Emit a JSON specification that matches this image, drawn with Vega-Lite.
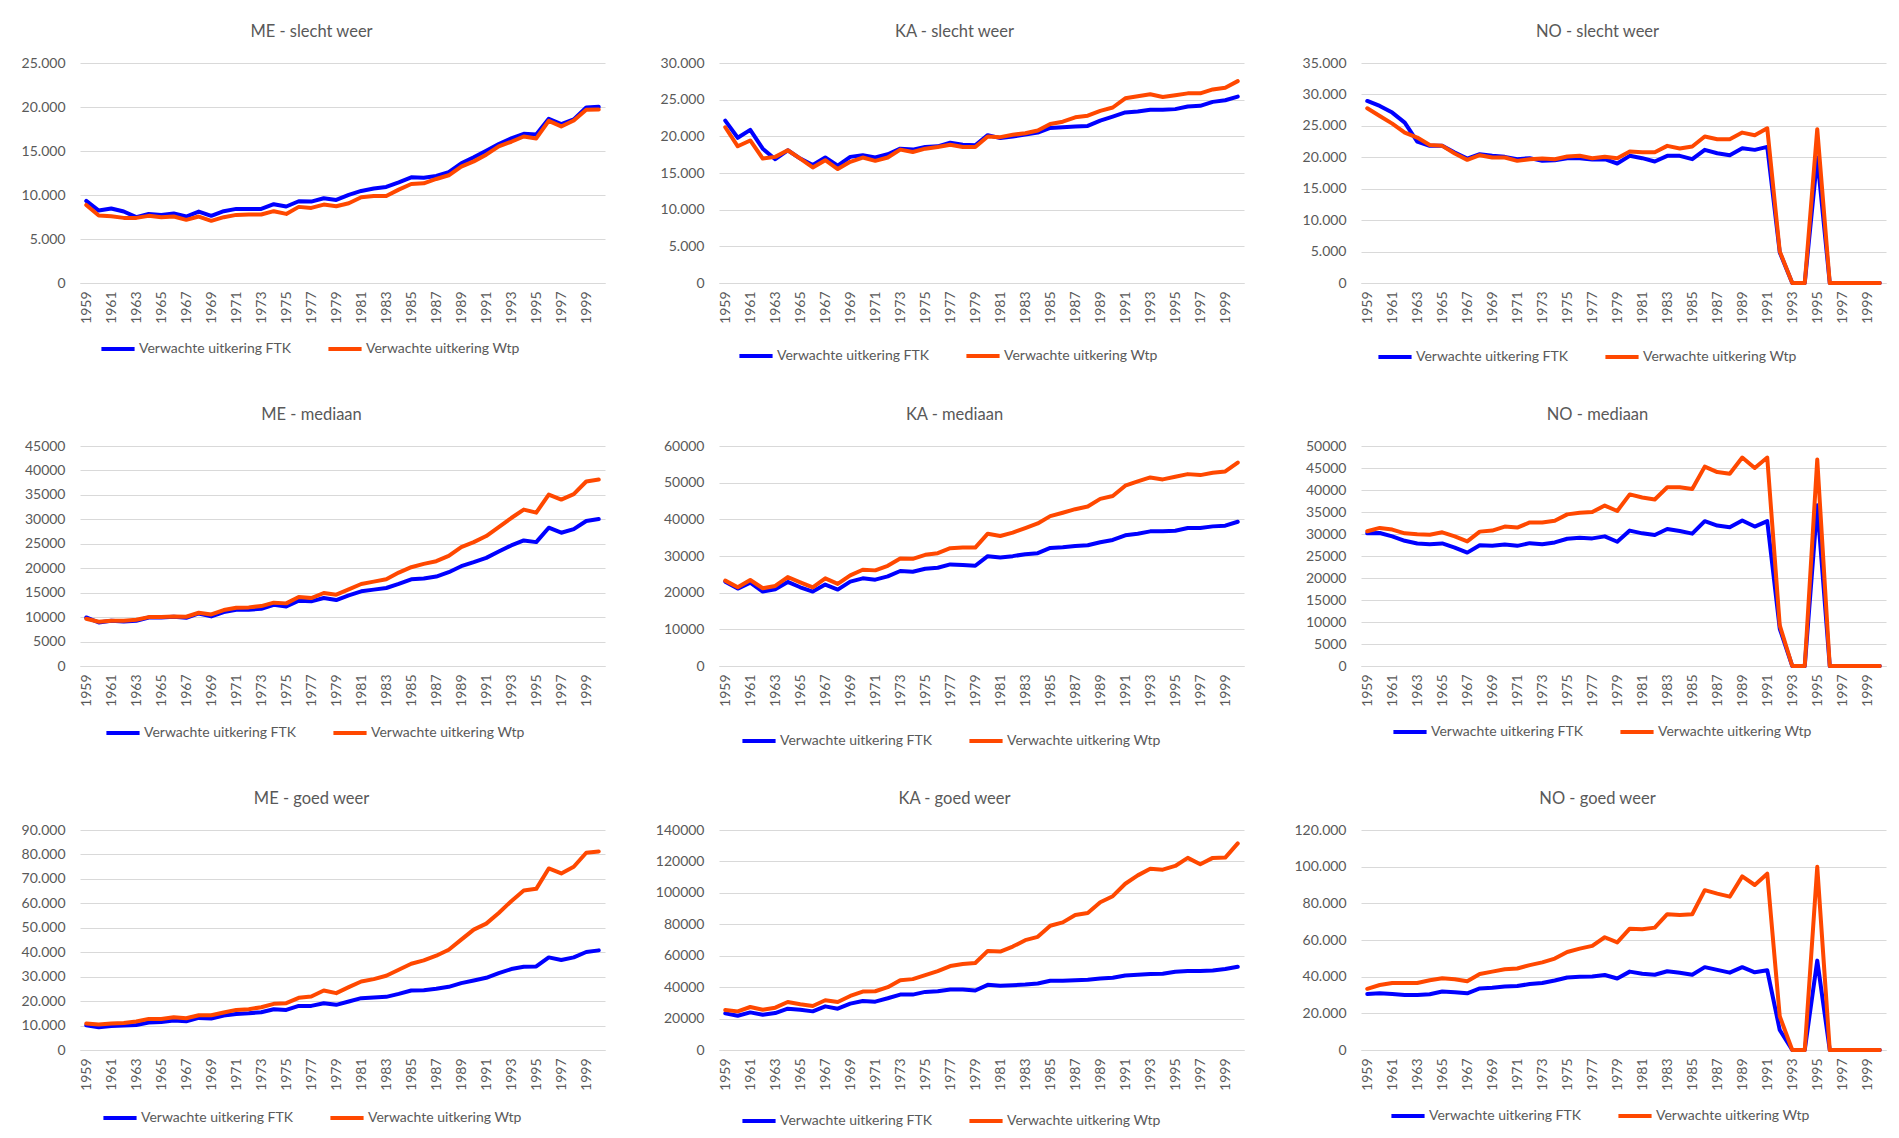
{
"$schema": "https://vega.github.io/schema/vega-lite/v6.json",
"background": "white",
"padding": {"left": 15, "top": 23, "right": 0, "bottom": 0},
"datasets": {"d": [
{"year":1959,"MEs_FTK":9330,"MEs_Wtp":8870,"KAs_FTK":22140,"KAs_Wtp":21240,"NOs_FTK":28960,"NOs_Wtp":27800,"MEm_FTK":9930,"MEm_Wtp":9660,"KAm_FTK":23010,"KAm_Wtp":23280,"NOm_FTK":30150,"NOm_Wtp":30620,"MEg_FTK":10120,"MEg_Wtp":10810,"KAg_FTK":23300,"KAg_Wtp":25430,"NOg_FTK":30560,"NOg_Wtp":33380},
{"year":1960,"MEs_FTK":8230,"MEs_Wtp":7670,"KAs_FTK":19800,"KAs_Wtp":18640,"NOs_FTK":28170,"NOs_Wtp":26580,"MEm_FTK":8900,"MEm_Wtp":9040,"KAm_FTK":21110,"KAm_Wtp":21470,"NOm_FTK":30230,"NOm_Wtp":31380,"MEg_FTK":9300,"MEg_Wtp":10400,"KAg_FTK":21800,"KAg_Wtp":24580,"NOg_FTK":30940,"NOg_Wtp":35440},
{"year":1961,"MEs_FTK":8460,"MEs_Wtp":7590,"KAs_FTK":20880,"KAs_Wtp":19440,"NOs_FTK":27110,"NOs_Wtp":25360,"MEm_FTK":9250,"MEm_Wtp":9250,"KAm_FTK":22740,"KAm_Wtp":23460,"NOm_FTK":29460,"NOm_Wtp":31000,"MEg_FTK":9850,"MEg_Wtp":10810,"KAg_FTK":23940,"KAg_Wtp":27360,"NOg_FTK":30560,"NOg_Wtp":36560},
{"year":1962,"MEs_FTK":8120,"MEs_Wtp":7400,"KAs_FTK":18320,"KAs_Wtp":16970,"NOs_FTK":25520,"NOs_Wtp":23930,"MEm_FTK":9110,"MEm_Wtp":9250,"KAm_FTK":20300,"KAm_Wtp":21200,"NOm_FTK":28460,"NOm_Wtp":30150,"MEg_FTK":9990,"MEg_Wtp":11080,"KAg_FTK":22440,"KAg_Wtp":25650,"NOg_FTK":30000,"NOg_Wtp":36560},
{"year":1963,"MEs_FTK":7480,"MEs_Wtp":7400,"KAs_FTK":16880,"KAs_Wtp":17200,"NOs_FTK":22500,"NOs_Wtp":23140,"MEm_FTK":9250,"MEm_Wtp":9450,"KAm_FTK":20930,"KAm_Wtp":21830,"NOm_FTK":27850,"NOm_Wtp":29920,"MEg_FTK":10260,"MEg_Wtp":11630,"KAg_FTK":23510,"KAg_Wtp":26930,"NOg_FTK":30000,"NOg_Wtp":36560},
{"year":1964,"MEs_FTK":7850,"MEs_Wtp":7630,"KAs_FTK":18100,"KAs_Wtp":18100,"NOs_FTK":21820,"NOs_Wtp":21970,"MEm_FTK":9930,"MEm_Wtp":10000,"KAm_FTK":22920,"KAm_Wtp":24270,"NOm_FTK":27690,"NOm_Wtp":29850,"MEg_FTK":11220,"MEg_Wtp":12720,"KAg_FTK":26290,"KAg_Wtp":30560,"NOg_FTK":30380,"NOg_Wtp":38060},
{"year":1965,"MEs_FTK":7740,"MEs_Wtp":7480,"KAs_FTK":16970,"KAs_Wtp":16970,"NOs_FTK":21820,"NOs_Wtp":21820,"MEm_FTK":9930,"MEm_Wtp":10000,"KAm_FTK":21470,"KAm_Wtp":22830,"NOm_FTK":27850,"NOm_Wtp":30380,"MEg_FTK":11490,"MEg_Wtp":12720,"KAg_FTK":25650,"KAg_Wtp":29070,"NOg_FTK":31880,"NOg_Wtp":39190},
{"year":1966,"MEs_FTK":7890,"MEs_Wtp":7550,"KAs_FTK":16080,"KAs_Wtp":15760,"NOs_FTK":20760,"NOs_Wtp":20600,"MEm_FTK":10070,"MEm_Wtp":10140,"KAm_FTK":20300,"KAm_Wtp":21470,"NOm_FTK":26920,"NOm_Wtp":29460,"MEg_FTK":12040,"MEg_Wtp":13400,"KAg_FTK":24580,"KAg_Wtp":28000,"NOg_FTK":31500,"NOg_Wtp":38630},
{"year":1967,"MEs_FTK":7550,"MEs_Wtp":7180,"KAs_FTK":17110,"KAs_Wtp":16750,"NOs_FTK":19800,"NOs_Wtp":19590,"MEm_FTK":9860,"MEm_Wtp":10070,"KAm_FTK":22200,"KAm_Wtp":23910,"NOm_FTK":25770,"NOm_Wtp":28310,"MEg_FTK":11760,"MEg_Wtp":12990,"KAg_FTK":27780,"KAg_Wtp":31630,"NOg_FTK":30940,"NOg_Wtp":37500},
{"year":1968,"MEs_FTK":8120,"MEs_Wtp":7550,"KAs_FTK":15990,"KAs_Wtp":15540,"NOs_FTK":20490,"NOs_Wtp":20330,"MEm_FTK":10750,"MEm_Wtp":10890,"KAm_FTK":20840,"KAm_Wtp":22380,"NOm_FTK":27460,"NOm_Wtp":30540,"MEg_FTK":13130,"MEg_Wtp":14230,"KAg_FTK":26290,"KAg_Wtp":30560,"NOg_FTK":33560,"NOg_Wtp":41440},
{"year":1969,"MEs_FTK":7630,"MEs_Wtp":7060,"KAs_FTK":17200,"KAs_Wtp":16520,"NOs_FTK":20230,"NOs_Wtp":19960,"MEm_FTK":10140,"MEm_Wtp":10550,"KAm_FTK":23010,"KAm_Wtp":24720,"NOm_FTK":27310,"NOm_Wtp":30770,"MEg_FTK":12860,"MEg_Wtp":14230,"KAg_FTK":29490,"KAg_Wtp":34410,"NOg_FTK":33940,"NOg_Wtp":42750},
{"year":1970,"MEs_FTK":8160,"MEs_Wtp":7480,"KAs_FTK":17420,"KAs_Wtp":17110,"NOs_FTK":20070,"NOs_Wtp":19960,"MEm_FTK":11030,"MEm_Wtp":11440,"KAm_FTK":23910,"KAm_Wtp":26260,"NOm_FTK":27620,"NOm_Wtp":31690,"MEg_FTK":14090,"MEg_Wtp":15320,"KAg_FTK":31200,"KAg_Wtp":37190,"NOg_FTK":34690,"NOg_Wtp":44070},
{"year":1971,"MEs_FTK":8420,"MEs_Wtp":7740,"KAs_FTK":17110,"KAs_Wtp":16660,"NOs_FTK":19700,"NOs_Wtp":19430,"MEm_FTK":11510,"MEm_Wtp":11920,"KAm_FTK":23550,"KAm_Wtp":26080,"NOm_FTK":27310,"NOm_Wtp":31460,"MEg_FTK":14770,"MEg_Wtp":16410,"KAg_FTK":30780,"KAg_Wtp":37400,"NOg_FTK":34880,"NOg_Wtp":44440},
{"year":1972,"MEs_FTK":8420,"MEs_Wtp":7780,"KAs_FTK":17560,"KAs_Wtp":17110,"NOs_FTK":19860,"NOs_Wtp":19700,"MEm_FTK":11510,"MEm_Wtp":11990,"KAm_FTK":24450,"KAm_Wtp":27340,"NOm_FTK":27920,"NOm_Wtp":32620,"MEg_FTK":15050,"MEg_Wtp":16690,"KAg_FTK":32910,"KAg_Wtp":39970,"NOg_FTK":36000,"NOg_Wtp":46310},
{"year":1973,"MEs_FTK":8420,"MEs_Wtp":7780,"KAs_FTK":18320,"KAs_Wtp":18190,"NOs_FTK":19430,"NOs_Wtp":19800,"MEm_FTK":11710,"MEm_Wtp":12260,"KAm_FTK":25900,"KAm_Wtp":29320,"NOm_FTK":27690,"NOm_Wtp":32620,"MEg_FTK":15460,"MEg_Wtp":17510,"KAg_FTK":35260,"KAg_Wtp":44450,"NOg_FTK":36560,"NOg_Wtp":47820},
{"year":1974,"MEs_FTK":8950,"MEs_Wtp":8160,"KAs_FTK":18190,"KAs_Wtp":17870,"NOs_FTK":19540,"NOs_Wtp":19700,"MEm_FTK":12530,"MEm_Wtp":12950,"KAm_FTK":25720,"KAm_Wtp":29230,"NOm_FTK":28080,"NOm_Wtp":33000,"MEg_FTK":16690,"MEg_Wtp":18880,"KAg_FTK":35260,"KAg_Wtp":45100,"NOg_FTK":37880,"NOg_Wtp":49880},
{"year":1975,"MEs_FTK":8690,"MEs_Wtp":7850,"KAs_FTK":18550,"KAs_Wtp":18320,"NOs_FTK":19860,"NOs_Wtp":20120,"MEm_FTK":12190,"MEm_Wtp":12810,"KAm_FTK":26530,"KAm_Wtp":30320,"NOm_FTK":28920,"NOm_Wtp":34460,"MEg_FTK":16410,"MEg_Wtp":19150,"KAg_FTK":36970,"KAg_Wtp":47660,"NOg_FTK":39560,"NOg_Wtp":53440},
{"year":1976,"MEs_FTK":9290,"MEs_Wtp":8650,"KAs_FTK":18640,"KAs_Wtp":18550,"NOs_FTK":19860,"NOs_Wtp":20230,"MEm_FTK":13360,"MEm_Wtp":14110,"KAm_FTK":26800,"KAm_Wtp":30770,"NOm_FTK":29150,"NOm_Wtp":34850,"MEg_FTK":18050,"MEg_Wtp":21340,"KAg_FTK":37400,"KAg_Wtp":50220,"NOg_FTK":39940,"NOg_Wtp":55320},
{"year":1977,"MEs_FTK":9250,"MEs_Wtp":8530,"KAs_FTK":19130,"KAs_Wtp":18860,"NOs_FTK":19640,"NOs_Wtp":19860,"MEm_FTK":13220,"MEm_Wtp":13900,"KAm_FTK":27700,"KAm_Wtp":32120,"NOm_FTK":29000,"NOm_Wtp":35000,"MEg_FTK":18050,"MEg_Wtp":21880,"KAg_FTK":38470,"KAg_Wtp":53430,"NOg_FTK":40130,"NOg_Wtp":56820},
{"year":1978,"MEs_FTK":9630,"MEs_Wtp":8910,"KAs_FTK":18860,"KAs_Wtp":18550,"NOs_FTK":19700,"NOs_Wtp":20070,"MEm_FTK":13900,"MEm_Wtp":14930,"KAm_FTK":27520,"KAm_Wtp":32300,"NOm_FTK":29460,"NOm_Wtp":36460,"MEg_FTK":19150,"MEg_Wtp":24350,"KAg_FTK":38470,"KAg_Wtp":54710,"NOg_FTK":40880,"NOg_Wtp":61500},
{"year":1979,"MEs_FTK":9440,"MEs_Wtp":8720,"KAs_FTK":18770,"KAs_Wtp":18550,"NOs_FTK":19010,"NOs_Wtp":19860,"MEm_FTK":13490,"MEm_Wtp":14590,"KAm_FTK":27340,"KAm_Wtp":32300,"NOm_FTK":28230,"NOm_Wtp":35230,"MEg_FTK":18470,"MEg_Wtp":23250,"KAg_FTK":37830,"KAg_Wtp":55350,"NOg_FTK":39000,"NOg_Wtp":58690},
{"year":1980,"MEs_FTK":10010,"MEs_Wtp":9060,"KAs_FTK":20160,"KAs_Wtp":19980,"NOs_FTK":20230,"NOs_Wtp":20920,"MEm_FTK":14450,"MEm_Wtp":15680,"KAm_FTK":29960,"KAm_Wtp":36090,"NOm_FTK":30770,"NOm_Wtp":39000,"MEg_FTK":19830,"MEg_Wtp":25710,"KAg_FTK":41460,"KAg_Wtp":63050,"NOg_FTK":42750,"NOg_Wtp":66190},
{"year":1981,"MEs_FTK":10460,"MEs_Wtp":9740,"KAs_FTK":19760,"KAs_Wtp":19890,"NOs_FTK":19860,"NOs_Wtp":20810,"MEm_FTK":15270,"MEm_Wtp":16780,"KAm_FTK":29600,"KAm_Wtp":35460,"NOm_FTK":30150,"NOm_Wtp":38310,"MEg_FTK":21200,"MEg_Wtp":28040,"KAg_FTK":40820,"KAg_Wtp":62620,"NOg_FTK":41630,"NOg_Wtp":65820},
{"year":1982,"MEs_FTK":10730,"MEs_Wtp":9890,"KAs_FTK":19980,"KAs_Wtp":20210,"NOs_FTK":19330,"NOs_Wtp":20810,"MEm_FTK":15620,"MEm_Wtp":17260,"KAm_FTK":29960,"KAm_Wtp":36360,"NOm_FTK":29770,"NOm_Wtp":37850,"MEg_FTK":21470,"MEg_Wtp":29000,"KAg_FTK":41250,"KAg_Wtp":65830,"NOg_FTK":41060,"NOg_Wtp":66750},
{"year":1983,"MEs_FTK":10910,"MEs_Wtp":9890,"KAs_FTK":20250,"KAs_Wtp":20430,"NOs_FTK":20230,"NOs_Wtp":21820,"MEm_FTK":15960,"MEm_Wtp":17740,"KAm_FTK":30500,"KAm_Wtp":37630,"NOm_FTK":31150,"NOm_Wtp":40620,"MEg_FTK":21750,"MEg_Wtp":30360,"KAg_FTK":41680,"KAg_Wtp":69890,"NOg_FTK":42940,"NOg_Wtp":74070},
{"year":1984,"MEs_FTK":11440,"MEs_Wtp":10610,"KAs_FTK":20520,"KAs_Wtp":20790,"NOs_FTK":20230,"NOs_Wtp":21390,"MEm_FTK":16780,"MEm_Wtp":19110,"KAm_FTK":30770,"KAm_Wtp":38890,"NOm_FTK":30690,"NOm_Wtp":40620,"MEg_FTK":22980,"MEg_Wtp":32830,"KAg_FTK":42320,"KAg_Wtp":72020,"NOg_FTK":42190,"NOg_Wtp":73690},
{"year":1985,"MEs_FTK":12010,"MEs_Wtp":11250,"KAs_FTK":21150,"KAs_Wtp":21690,"NOs_FTK":19700,"NOs_Wtp":21710,"MEm_FTK":17740,"MEm_Wtp":20210,"KAm_FTK":32210,"KAm_Wtp":40870,"NOm_FTK":30080,"NOm_Wtp":40230,"MEg_FTK":24350,"MEg_Wtp":35290,"KAg_FTK":44030,"KAg_Wtp":79080,"NOg_FTK":41060,"NOg_Wtp":74070},
{"year":1986,"MEs_FTK":11970,"MEs_Wtp":11330,"KAs_FTK":21240,"KAs_Wtp":22000,"NOs_FTK":21180,"NOs_Wtp":23300,"MEm_FTK":17880,"MEm_Wtp":20890,"KAm_FTK":32390,"KAm_Wtp":41780,"NOm_FTK":32920,"NOm_Wtp":45310,"MEg_FTK":24480,"MEg_Wtp":36660,"KAg_FTK":44030,"KAg_Wtp":81210,"NOg_FTK":45190,"NOg_Wtp":87190},
{"year":1987,"MEs_FTK":12160,"MEs_Wtp":11820,"KAs_FTK":21330,"KAs_Wtp":22590,"NOs_FTK":20650,"NOs_Wtp":22870,"MEm_FTK":18290,"MEm_Wtp":21440,"KAm_FTK":32750,"KAm_Wtp":42770,"NOm_FTK":31920,"NOm_Wtp":44080,"MEg_FTK":25030,"MEg_Wtp":38570,"KAg_FTK":44450,"KAg_Wtp":85920,"NOg_FTK":43690,"NOg_Wtp":85320},
{"year":1988,"MEs_FTK":12610,"MEs_Wtp":12240,"KAs_FTK":21420,"KAs_Wtp":22810,"NOs_FTK":20330,"NOs_Wtp":22870,"MEm_FTK":19180,"MEm_Wtp":22530,"KAm_FTK":32930,"KAm_Wtp":43490,"NOm_FTK":31540,"NOm_Wtp":43690,"MEg_FTK":25850,"MEg_Wtp":41030,"KAg_FTK":44670,"KAg_Wtp":87200,"NOg_FTK":42190,"NOg_Wtp":83630},
{"year":1989,"MEs_FTK":13600,"MEs_Wtp":13220,"KAs_FTK":22140,"KAs_Wtp":23480,"NOs_FTK":21440,"NOs_Wtp":23930,"MEm_FTK":20410,"MEm_Wtp":24320,"KAm_FTK":33750,"KAm_Wtp":45570,"NOm_FTK":33080,"NOm_Wtp":47380,"MEg_FTK":27360,"MEg_Wtp":45140,"KAg_FTK":45520,"KAg_Wtp":94040,"NOg_FTK":45190,"NOg_Wtp":94690},
{"year":1990,"MEs_FTK":14280,"MEs_Wtp":13820,"KAs_FTK":22680,"KAs_Wtp":23930,"NOs_FTK":21180,"NOs_Wtp":23510,"MEm_FTK":21230,"MEm_Wtp":25340,"KAm_FTK":34380,"KAm_Wtp":46380,"NOm_FTK":31690,"NOm_Wtp":45000,"MEg_FTK":28450,"MEg_Wtp":49240,"KAg_FTK":45950,"KAg_Wtp":97880,"NOg_FTK":42380,"NOg_Wtp":90000},
{"year":1991,"MEs_FTK":15030,"MEs_Wtp":14580,"KAs_FTK":23260,"KAs_Wtp":25190,"NOs_FTK":21660,"NOs_Wtp":24620,"MEm_FTK":22120,"MEm_Wtp":26580,"KAm_FTK":35640,"KAm_Wtp":49170,"NOm_FTK":32920,"NOm_Wtp":47380,"MEg_FTK":29540,"MEg_Wtp":51700,"KAg_FTK":47450,"KAg_Wtp":105790,"NOg_FTK":43500,"NOg_Wtp":96190},
{"year":1992,"MEs_FTK":15790,"MEs_Wtp":15520,"KAs_FTK":23390,"KAs_Wtp":25460,"NOs_FTK":4870,"NOs_Wtp":5030,"MEm_FTK":23420,"MEm_Wtp":28420,"KAm_FTK":36090,"KAm_Wtp":50350,"NOm_FTK":8460,"NOm_Wtp":9230,"MEg_FTK":31460,"MEg_Wtp":56080,"KAg_FTK":47870,"KAg_Wtp":111130,"NOg_FTK":10880,"NOg_Wtp":18380},
{"year":1993,"MEs_FTK":16430,"MEs_Wtp":16050,"KAs_FTK":23620,"KAs_Wtp":25730,"NOs_FTK":0,"NOs_Wtp":0,"MEm_FTK":24660,"MEm_Wtp":30270,"KAm_FTK":36720,"KAm_Wtp":51430,"NOm_FTK":0,"NOm_Wtp":0,"MEg_FTK":33100,"MEg_Wtp":60870,"KAg_FTK":48300,"KAg_Wtp":115410,"NOg_FTK":0,"NOg_Wtp":0},
{"year":1994,"MEs_FTK":16960,"MEs_Wtp":16650,"KAs_FTK":23620,"KAs_Wtp":25370,"NOs_FTK":0,"NOs_Wtp":0,"MEm_FTK":25680,"MEm_Wtp":31990,"KAm_FTK":36720,"KAm_Wtp":50890,"NOm_FTK":0,"NOm_Wtp":0,"MEg_FTK":34060,"MEg_Wtp":65240,"KAg_FTK":48510,"KAg_Wtp":114770,"NOg_FTK":0,"NOg_Wtp":0},
{"year":1995,"MEs_FTK":16880,"MEs_Wtp":16430,"KAs_FTK":23710,"KAs_Wtp":25600,"NOs_FTK":19960,"NOs_Wtp":24460,"MEm_FTK":25340,"MEm_Wtp":31370,"KAm_FTK":36900,"KAm_Wtp":51610,"NOm_FTK":36540,"NOm_Wtp":46920,"MEg_FTK":34200,"MEg_Wtp":65930,"KAg_FTK":49800,"KAg_Wtp":117120,"NOg_FTK":48750,"NOg_Wtp":99940},
{"year":1996,"MEs_FTK":18660,"MEs_Wtp":18430,"KAs_FTK":24070,"KAs_Wtp":25860,"NOs_FTK":0,"NOs_Wtp":0,"MEm_FTK":28290,"MEm_Wtp":35070,"KAm_FTK":37630,"KAm_Wtp":52330,"NOm_FTK":0,"NOm_Wtp":0,"MEg_FTK":37890,"MEg_Wtp":74270,"KAg_FTK":50220,"KAg_Wtp":122250,"NOg_FTK":0,"NOg_Wtp":0},
{"year":1997,"MEs_FTK":18050,"MEs_Wtp":17790,"KAs_FTK":24160,"KAs_Wtp":25860,"NOs_FTK":0,"NOs_Wtp":0,"MEm_FTK":27260,"MEm_Wtp":34040,"KAm_FTK":37630,"KAm_Wtp":52060,"NOm_FTK":0,"NOm_Wtp":0,"MEg_FTK":36790,"MEg_Wtp":72220,"KAg_FTK":50220,"KAg_Wtp":118190,"NOg_FTK":0,"NOg_Wtp":0},
{"year":1998,"MEs_FTK":18580,"MEs_Wtp":18470,"KAs_FTK":24700,"KAs_Wtp":26400,"NOs_FTK":0,"NOs_Wtp":0,"MEm_FTK":28010,"MEm_Wtp":35140,"KAm_FTK":38080,"KAm_Wtp":52690,"NOm_FTK":0,"NOm_Wtp":0,"MEg_FTK":37890,"MEg_Wtp":74950,"KAg_FTK":50650,"KAg_Wtp":122250,"NOg_FTK":0,"NOg_Wtp":0},
{"year":1999,"MEs_FTK":19940,"MEs_Wtp":19680,"KAs_FTK":24920,"KAs_Wtp":26630,"NOs_FTK":0,"NOs_Wtp":0,"MEm_FTK":29660,"MEm_Wtp":37740,"KAm_FTK":38260,"KAm_Wtp":53050,"NOm_FTK":0,"NOm_Wtp":0,"MEg_FTK":40080,"MEg_Wtp":80700,"KAg_FTK":51510,"KAg_Wtp":122460,"NOg_FTK":0,"NOg_Wtp":0},
{"year":2000,"MEs_FTK":20020,"MEs_Wtp":19710,"KAs_FTK":25420,"KAs_Wtp":27530,"NOs_FTK":0,"NOs_Wtp":0,"MEm_FTK":30070,"MEm_Wtp":38150,"KAm_FTK":39340,"KAm_Wtp":55490,"NOm_FTK":0,"NOm_Wtp":0,"MEg_FTK":40760,"MEg_Wtp":81250,"KAg_FTK":53000,"KAg_Wtp":131440,"NOg_FTK":0,"NOg_Wtp":0}
]},
"data": {"name": "d"},
"columns": 3,
"spacing": {"row": 42, "column": 48},
"resolve": {"scale": {"x": "independent", "y": "independent", "color": "independent"}, "legend": {"color": "independent"}},
"concat": [
{"title": {"text": "ME - slecht weer", "dx": -31}, "width": 525, "height": 220,
 "transform": [{"fold": ["MEs_FTK", "MEs_Wtp"], "as": ["s", "v"]}],
 "mark": "line",
 "encoding": {
  "x": {"field": "year", "type": "ordinal", "title": null, "axis": {"labelExpr": "datum.value % 2 == 1 ? datum.label : ''"}},
  "y": {"field": "v", "type": "quantitative", "title": null, "scale": {"domain": [0, 25000], "nice": false}, "axis": {"values": [0, 5000, 10000, 15000, 20000, 25000], "labelExpr": "replace(format(datum.value, ','), ',', '.')"}},
  "color": {"field": "s", "type": "nominal", "title": null, "legend": {"legendX": 19, "legendY": 267, "labelExpr": "'Verwachte uitkering ' + slice(datum.value, 4)"}}
 }},
{"title": {"text": "KA - slecht weer", "dx": -27}, "width": 525, "height": 220,
 "transform": [{"fold": ["KAs_FTK", "KAs_Wtp"], "as": ["s", "v"]}],
 "mark": "line",
 "encoding": {
  "x": {"field": "year", "type": "ordinal", "title": null, "axis": {"labelExpr": "datum.value % 2 == 1 ? datum.label : ''"}},
  "y": {"field": "v", "type": "quantitative", "title": null, "scale": {"domain": [0, 30000], "nice": false}, "axis": {"values": [0, 5000, 10000, 15000, 20000, 25000, 30000], "labelExpr": "replace(format(datum.value, ','), ',', '.')"}},
  "color": {"field": "s", "type": "nominal", "title": null, "legend": {"legendX": 18, "legendY": 274, "labelExpr": "'Verwachte uitkering ' + slice(datum.value, 4)"}}
 }},
{"title": {"text": "NO - slecht weer", "dx": -26}, "width": 525, "height": 220,
 "transform": [{"fold": ["NOs_FTK", "NOs_Wtp"], "as": ["s", "v"]}],
 "mark": "line",
 "encoding": {
  "x": {"field": "year", "type": "ordinal", "title": null, "axis": {"labelExpr": "datum.value % 2 == 1 ? datum.label : ''"}},
  "y": {"field": "v", "type": "quantitative", "title": null, "scale": {"domain": [0, 35000], "nice": false}, "axis": {"values": [0, 5000, 10000, 15000, 20000, 25000, 30000, 35000], "labelExpr": "replace(format(datum.value, ','), ',', '.')"}},
  "color": {"field": "s", "type": "nominal", "title": null, "legend": {"legendX": 15, "legendY": 275, "labelExpr": "'Verwachte uitkering ' + slice(datum.value, 4)"}}
 }},
{"title": {"text": "ME - mediaan", "dx": -31}, "width": 525, "height": 220,
 "transform": [{"fold": ["MEm_FTK", "MEm_Wtp"], "as": ["s", "v"]}],
 "mark": "line",
 "encoding": {
  "x": {"field": "year", "type": "ordinal", "title": null, "axis": {"labelExpr": "datum.value % 2 == 1 ? datum.label : ''"}},
  "y": {"field": "v", "type": "quantitative", "title": null, "scale": {"domain": [0, 45000], "nice": false}, "axis": {"values": [0, 5000, 10000, 15000, 20000, 25000, 30000, 35000, 40000, 45000], "format": "d"}},
  "color": {"field": "s", "type": "nominal", "title": null, "legend": {"legendX": 24, "legendY": 268, "labelExpr": "'Verwachte uitkering ' + slice(datum.value, 4)"}}
 }},
{"title": {"text": "KA - mediaan", "dx": -27}, "width": 525, "height": 220,
 "transform": [{"fold": ["KAm_FTK", "KAm_Wtp"], "as": ["s", "v"]}],
 "mark": "line",
 "encoding": {
  "x": {"field": "year", "type": "ordinal", "title": null, "axis": {"labelExpr": "datum.value % 2 == 1 ? datum.label : ''"}},
  "y": {"field": "v", "type": "quantitative", "title": null, "scale": {"domain": [0, 60000], "nice": false}, "axis": {"values": [0, 10000, 20000, 30000, 40000, 50000, 60000], "format": "d"}},
  "color": {"field": "s", "type": "nominal", "title": null, "legend": {"legendX": 21, "legendY": 276, "labelExpr": "'Verwachte uitkering ' + slice(datum.value, 4)"}}
 }},
{"title": {"text": "NO - mediaan", "dx": -26}, "width": 525, "height": 220,
 "transform": [{"fold": ["NOm_FTK", "NOm_Wtp"], "as": ["s", "v"]}],
 "mark": "line",
 "encoding": {
  "x": {"field": "year", "type": "ordinal", "title": null, "axis": {"labelExpr": "datum.value % 2 == 1 ? datum.label : ''"}},
  "y": {"field": "v", "type": "quantitative", "title": null, "scale": {"domain": [0, 50000], "nice": false}, "axis": {"values": [0, 5000, 10000, 15000, 20000, 25000, 30000, 35000, 40000, 45000, 50000], "format": "d"}},
  "color": {"field": "s", "type": "nominal", "title": null, "legend": {"legendX": 30, "legendY": 267, "labelExpr": "'Verwachte uitkering ' + slice(datum.value, 4)"}}
 }},
{"title": {"text": "ME - goed weer", "dx": -31}, "width": 525, "height": 220,
 "transform": [{"fold": ["MEg_FTK", "MEg_Wtp"], "as": ["s", "v"]}],
 "mark": "line",
 "encoding": {
  "x": {"field": "year", "type": "ordinal", "title": null, "axis": {"labelExpr": "datum.value % 2 == 1 ? datum.label : ''"}},
  "y": {"field": "v", "type": "quantitative", "title": null, "scale": {"domain": [0, 90000], "nice": false}, "axis": {"values": [0, 10000, 20000, 30000, 40000, 50000, 60000, 70000, 80000, 90000], "labelExpr": "replace(format(datum.value, ','), ',', '.')"}},
  "color": {"field": "s", "type": "nominal", "title": null, "legend": {"legendX": 21, "legendY": 269, "labelExpr": "'Verwachte uitkering ' + slice(datum.value, 4)"}}
 }},
{"title": {"text": "KA - goed weer", "dx": -27}, "width": 525, "height": 220,
 "transform": [{"fold": ["KAg_FTK", "KAg_Wtp"], "as": ["s", "v"]}],
 "mark": "line",
 "encoding": {
  "x": {"field": "year", "type": "ordinal", "title": null, "axis": {"labelExpr": "datum.value % 2 == 1 ? datum.label : ''"}},
  "y": {"field": "v", "type": "quantitative", "title": null, "scale": {"domain": [0, 140000], "nice": false}, "axis": {"values": [0, 20000, 40000, 60000, 80000, 100000, 120000, 140000], "format": "d"}},
  "color": {"field": "s", "type": "nominal", "title": null, "legend": {"legendX": 21, "legendY": 272, "labelExpr": "'Verwachte uitkering ' + slice(datum.value, 4)"}}
 }},
{"title": {"text": "NO - goed weer", "dx": -26}, "width": 525, "height": 220,
 "transform": [{"fold": ["NOg_FTK", "NOg_Wtp"], "as": ["s", "v"]}],
 "mark": "line",
 "encoding": {
  "x": {"field": "year", "type": "ordinal", "title": null, "axis": {"labelExpr": "datum.value % 2 == 1 ? datum.label : ''"}},
  "y": {"field": "v", "type": "quantitative", "title": null, "scale": {"domain": [0, 120000], "nice": false}, "axis": {"values": [0, 20000, 40000, 60000, 80000, 100000, 120000], "labelExpr": "replace(format(datum.value, ','), ',', '.')"}},
  "color": {"field": "s", "type": "nominal", "title": null, "legend": {"legendX": 28, "legendY": 267, "labelExpr": "'Verwachte uitkering ' + slice(datum.value, 4)"}}
 }}
],
"config": {
 "view": {"stroke": null},
 "range": {"category": ["#0000ff", "#ff4800"]},
 "line": {"strokeWidth": 4, "strokeJoin": "round", "strokeCap": "round"},
 "title": {"font": "Lato", "fontSize": 16.5, "fontWeight": "normal", "color": "#595959", "offset": 16},
 "axis": {"labelFont": "Lato", "labelFontSize": 14, "labelColor": "#595959"},
 "axisX": {"labelAngle": -90, "ticks": false, "grid": false, "domainColor": "#d9d9d9", "labelPadding": 8, "labelOverlap": false},
 "axisY": {"domain": false, "ticks": false, "gridColor": "#d9d9d9", "labelPadding": 15, "minExtent": 65, "maxExtent": 65},
 "legend": {"orient": "none", "direction": "horizontal", "symbolType": "stroke", "symbolStrokeWidth": 5, "symbolSize": 1100, "labelFont": "Lato", "labelFontSize": 14, "labelColor": "#595959", "columnPadding": 34, "labelOffset": 2, "labelLimit": 300}
}
}
